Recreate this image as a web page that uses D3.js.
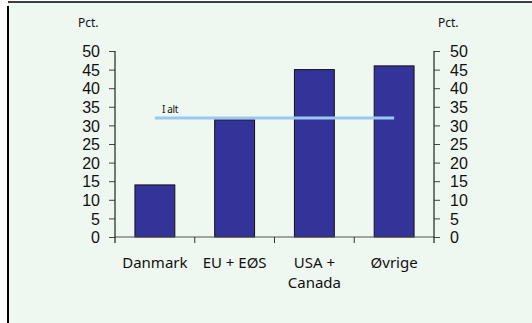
<!DOCTYPE html>
<html><head><meta charset="utf-8">
<script src="https://cdn.jsdelivr.net/npm/d3@7"></script>
<style>html,body{margin:0;padding:0;background:#fff;}svg{display:block;}</style>
</head><body>
<script>
const categories = [["Danmark"], ["EU + EØS"], ["USA +", "Canada"], ["Øvrige"]];
const values = [14, 31.5, 45, 46];
const totalLabel = "I alt";
const totalValue = 32;
const yTicks = [0, 5, 10, 15, 20, 25, 30, 35, 40, 45, 50];
const unitLabel = "Pct.";

const W = 532, H = 323;
const svg = d3.select("body").append("svg").attr("width", W).attr("height", H);
svg.append("rect").attr("x", 0).attr("y", 0).attr("width", W).attr("height", H).attr("fill", "#fff");
svg.append("rect").attr("x", 8).attr("y", 2).attr("width", W - 8).attr("height", H).attr("fill", "#eef7f0");
svg.append("line").attr("x1", 8).attr("x2", W).attr("y1", 2).attr("y2", 2).attr("stroke", "#000").attr("stroke-width", 1.5);
svg.append("line").attr("x1", 8).attr("x2", 8).attr("y1", 6).attr("y2", H).attr("stroke", "#000").attr("stroke-width", 2);

const x0 = 115, x1 = 434, y0 = 237, y1 = 51;
const x = d3.scaleBand().domain(d3.range(categories.length)).range([x0, x1]).paddingInner(0.5).paddingOuter(0.25);
const y = d3.scaleLinear().domain([0, 50]).range([y0, y1]);
const font = "'Noto Sans', sans-serif";
const tickFont = "'Liberation Sans', Arial, sans-serif";

// bars
svg.append("g").selectAll("rect").data(values).join("rect")
  .attr("x", (d, i) => x(i)).attr("width", x.bandwidth())
  .attr("y", d => y(d)).attr("height", d => y(0) - y(d))
  .attr("fill", "#333399").attr("stroke", "#111").attr("stroke-width", 1);

// x axis line and ticks at band boundaries
const step = x.step();
const bounds = d3.range(categories.length + 1).map(i => x0 + i * step);
svg.append("line").attr("x1", x0).attr("x2", x1).attr("y1", y0).attr("y2", y0).attr("stroke", "#555").attr("stroke-width", 1.2);
svg.append("g").selectAll("line").data(bounds.slice(1, -1)).join("line")
  .attr("x1", d => d).attr("x2", d => d).attr("y1", y0).attr("y2", y0 + 6).attr("stroke", "#333");

// left axis
const left = svg.append("g").attr("transform", `translate(${x0},0)`)
  .call(d3.axisLeft(y).tickValues(yTicks).tickSize(6).tickPadding(9).tickSizeOuter(0));
left.select(".domain").remove();
left.append("line").attr("x1", 0).attr("x2", 0).attr("y1", y1).attr("y2", y0 + 6).attr("stroke", "#222").attr("stroke-width", 1.2);
// right axis
const right = svg.append("g").attr("transform", `translate(${x1},0)`)
  .call(d3.axisRight(y).tickValues(yTicks).tickSize(6).tickPadding(10).tickSizeOuter(0));
right.select(".domain").remove();
right.append("line").attr("x1", 0).attr("x2", 0).attr("y1", y1).attr("y2", y0 + 6).attr("stroke", "#222").attr("stroke-width", 1.2);
[left, right].forEach(g => {
  g.selectAll(".tick line").attr("stroke", "#444");
  g.selectAll(".tick text").attr("font-family", tickFont).attr("font-size", 16).attr("fill", "#111").attr("dy", "0.36em");
});

// total line
const cx = i => x(i) + x.bandwidth() / 2;
svg.append("line").attr("x1", cx(0)).attr("x2", cx(categories.length - 1))
  .attr("y1", y(totalValue)).attr("y2", y(totalValue))
  .attr("stroke", "#99c9f2").attr("stroke-width", 3);
svg.append("text").attr("x", cx(0) + 7).attr("y", y(totalValue) - 5)
  .attr("font-family", font).attr("font-size", 10).attr("fill", "#111").attr("letter-spacing", "-0.3").text(totalLabel);

// category labels
categories.forEach((lines, i) => {
  const t = svg.append("text").attr("x", cx(i)).attr("y", 268).attr("text-anchor", "middle")
    .attr("font-family", font).attr("font-size", 15).attr("fill", "#111");
  lines.forEach((l, j) => t.append("tspan").attr("x", cx(i)).attr("dy", j === 0 ? 0 : 20).text(l));
});

// unit labels
svg.append("text").attr("x", 78).attr("y", 27).attr("font-family", font).attr("font-size", 12).attr("fill", "#111").text(unitLabel);
svg.append("text").attr("x", 438).attr("y", 27).attr("font-family", font).attr("font-size", 12).attr("fill", "#111").text(unitLabel);
</script>
</body></html>
